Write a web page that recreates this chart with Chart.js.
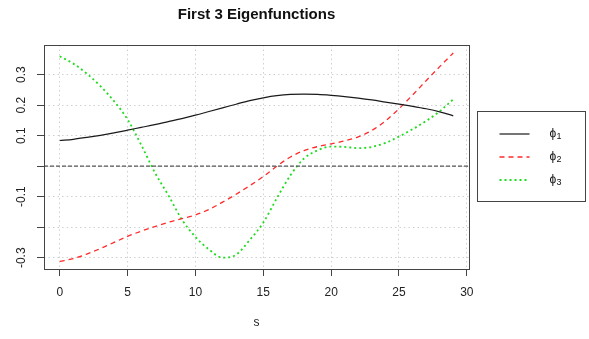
<!DOCTYPE html>
<html>
<head>
<meta charset="utf-8">
<script src="https://cdn.jsdelivr.net/npm/chart.js@4/dist/chart.umd.min.js"></script>
<style>
  html, body { margin: 0; padding: 0; background: #fff; }
  #c { display: block; }
</style>
</head>
<body>
<canvas id="c" width="589" height="339"></canvas>
<script>
'use strict';
// ---------- data ----------
const s = [0, 1, 2, 3, 4, 5, 6, 7, 8, 9, 10, 11, 12, 13, 14, 15, 16, 17, 18, 19, 20, 21, 22, 23, 24, 25, 26, 27, 28, 29];
const phi1 = [0.084, 0.088, 0.094, 0.101, 0.109, 0.118, 0.127, 0.136, 0.146, 0.156, 0.167, 0.179, 0.191, 0.203, 0.215, 0.224,
              0.231, 0.235, 0.236, 0.235, 0.232, 0.228, 0.223, 0.217, 0.210, 0.203, 0.196, 0.188, 0.178, 0.165];
const phi2 = [-0.312, -0.303, -0.288, -0.270, -0.250, -0.230, -0.213, -0.198, -0.184, -0.172, -0.160, -0.142, -0.118, -0.092, -0.064,
              -0.034, 0.000, 0.030, 0.051, 0.064, 0.073, 0.083, 0.096, 0.117, 0.148, 0.188, 0.233, 0.280, 0.326, 0.371];
const phi3 = [0.360, 0.336, 0.303, 0.262, 0.213, 0.153, 0.070, -0.020, -0.095, -0.175, -0.232, -0.273, -0.300, -0.290, -0.242,
              -0.185, -0.105, -0.030, 0.025, 0.052, 0.064, 0.063, 0.059, 0.063, 0.076, 0.097, 0.121, 0.148, 0.180, 0.219];

const xTicks = [0, 5, 10, 15, 20, 25, 30];
const yTicks = [-0.3, -0.2, -0.1, 0, 0.1, 0.2, 0.3];
const yTickLabels = ['-0.3', '', '-0.1', '', '0.1', '0.2', '0.3'];   // R drops the ones that would overlap
const xLimits = [-1.16, 30.16];
const yLimits = [-0.337, 0.397];
const legendSubs = ['1', '2', '3'];

const FONT = "'Liberation Sans', Arial, Helvetica, sans-serif";
Chart.defaults.font.family = FONT;
Chart.defaults.color = '#222';

const pts = ys => s.map((x, i) => ({ x, y: ys[i] }));

const series = [
    { data: phi1, color: '#1a1a1a', dash: [],     width: 1.2 },
    { data: phi2, color: '#ff2a2a', dash: [5, 4], width: 1.3 },
    { data: phi3, color: '#1fdc1f', dash: [2, 3], width: 1.8 },
];

// ---------- R-style box, rotated y labels and legend ----------
const rDecor = {
    id: 'rDecor',
    afterDraw(chart) {
        const { ctx, chartArea: a, scales } = chart;
        ctx.save();

        // full box round the plot
        ctx.strokeStyle = '#444';
        ctx.lineWidth = 1;
        ctx.setLineDash([]);
        ctx.strokeRect(Math.round(a.left) + 0.5, Math.round(a.top) + 0.5,
                       Math.round(a.right - a.left), Math.round(a.bottom - a.top));

        // y tick labels, rotated like par(las=0)
        ctx.fillStyle = '#222';
        ctx.font = '12px ' + FONT;
        ctx.textAlign = 'center';
        ctx.textBaseline = 'middle';
        yTicks.forEach((v, i) => {
            if (!yTickLabels[i]) return;
            const y = scales.y.getPixelForValue(v);
            ctx.save();
            ctx.translate(a.left - 22.5, y);
            ctx.rotate(-Math.PI / 2);
            ctx.fillText(yTickLabels[i], 0, 0);
            ctx.restore();
        });

        // legend box to the right of the plot
        const bx = a.right + 8.5, by = 111.5, bw = 108, bh = 90;
        ctx.strokeStyle = '#444';
        ctx.strokeRect(bx, by, bw, bh);
        series.forEach((sr, i) => {
            const y = by + 22.5 + i * 23;
            ctx.beginPath();
            ctx.strokeStyle = sr.color;
            ctx.lineWidth = sr.width;
            ctx.setLineDash(sr.dash);
            ctx.moveTo(bx + 22, y);
            ctx.lineTo(bx + 52, y);
            ctx.stroke();
            ctx.setLineDash([]);
            ctx.fillStyle = '#111';
            ctx.textAlign = 'left';
            ctx.font = '12px ' + FONT;
            ctx.fillText('\u03d5', bx + 72, y);
            ctx.font = '9px ' + FONT;
            ctx.fillText(legendSubs[i], bx + 79, y + 3);
        });
        ctx.restore();
    }
};

new Chart(document.getElementById('c'), {
    type: 'line',
    data: {
        datasets: [
            // abline(h = 0, lty = 2)
            {
                data: xLimits.map(x => ({ x, y: 0 })),
                borderColor: '#555',
                borderDash: [4, 2],
                borderWidth: 1.2,
                pointRadius: 0,
            },
            ...series.map(sr => ({
                data: pts(sr.data),
                borderColor: sr.color,
                borderDash: sr.dash,
                borderWidth: sr.width,
                pointRadius: 0,
                cubicInterpolationMode: 'monotone',
                fill: false,
            })),
        ],
    },
    options: {
        responsive: false,
        animation: false,
        layout: { padding: { left: 0, right: 120, top: 0, bottom: 0 } },
        plugins: {
            legend: { display: false },
            tooltip: { enabled: false },
            title: {
                display: true,
                fullSize: false,
                text: 'First 3 Eigenfunctions',
                color: '#111',
                font: { size: 15, weight: 'bold', family: FONT },
                padding: { top: 6, bottom: 21 },
            },
        },
        scales: {
            x: {
                type: 'linear',
                min: xLimits[0],
                max: xLimits[1],
                afterBuildTicks: sc => { sc.ticks = xTicks.map(value => ({ value })); },
                afterFit: sc => { sc.height = 70; },
                ticks: { font: { size: 12 }, color: '#222', padding: 9, maxRotation: 0 },
                grid: { color: '#d0d0d0', tickColor: '#444', tickLength: 7, tickBorderDash: [] },
                border: { display: false, dash: [1.5, 3] },
                title: { display: true, text: 's', font: { size: 12 }, color: '#222', padding: { top: 0, bottom: 9 } },
            },
            y: {
                type: 'linear',
                min: yLimits[0],
                max: yLimits[1],
                afterBuildTicks: sc => { sc.ticks = yTicks.map(value => ({ value })); },
                afterFit: sc => { sc.width = 44; },
                ticks: { display: false },
                grid: { color: '#d0d0d0', tickColor: '#444', tickLength: 7, tickBorderDash: [] },
                border: { display: false, dash: [1.5, 3] },
            },
        },
    },
    plugins: [rDecor],
});
</script>
</body>
</html>
